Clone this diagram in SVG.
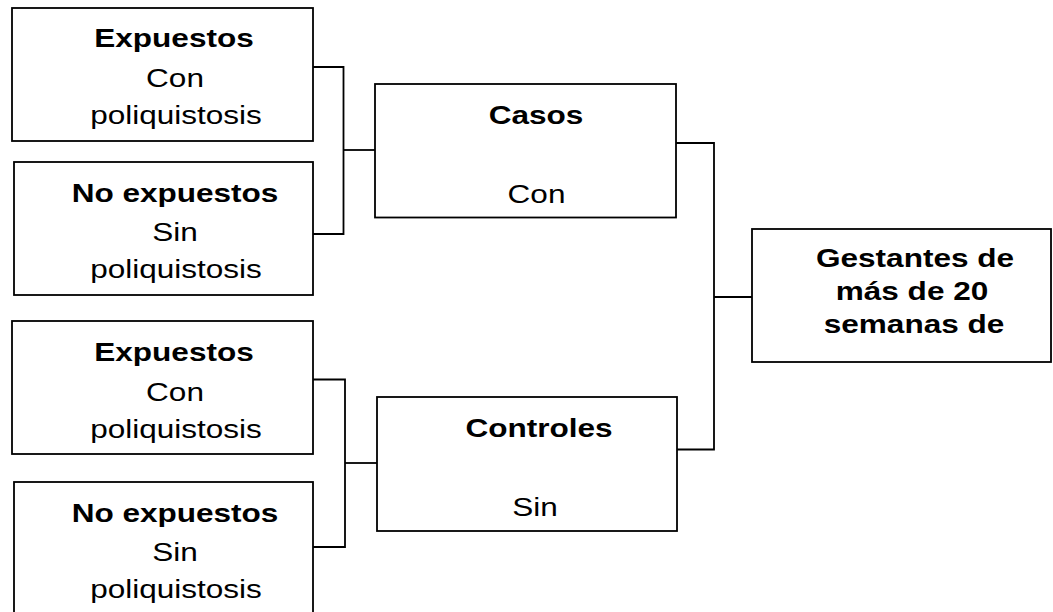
<svg xmlns="http://www.w3.org/2000/svg" width="1053" height="612" viewBox="0 0 1053 612">
<style>
  .box{fill:#fff;stroke:#000;stroke-width:1.8}
  .conn{fill:none;stroke:#000;stroke-width:1.8}
  text{font-family:"Liberation Sans",Arial,sans-serif;font-size:26.5px;fill:#000;text-anchor:middle}
  .b{font-weight:bold}
</style>
<rect width="1053" height="612" fill="#fff"/>
<g id="connectors">
  <polyline class="conn" points="313,67 343.5,67 343.5,234 313,234"/>
  <line class="conn" x1="343.5" y1="150" x2="375" y2="150"/>
  <polyline class="conn" points="313,379.5 345,379.5 345,547 313,547"/>
  <line class="conn" x1="345" y1="463" x2="377" y2="463"/>
  <polyline class="conn" points="676,143 714,143 714,449.5 677,449.5"/>
  <line class="conn" x1="714" y1="297" x2="752" y2="297"/>
</g>
<g id="expuestos1">
  <rect class="box" x="12" y="8" width="301" height="133"/>
  <text class="b" transform="translate(174,47) scale(1.19,1)">Expuestos</text>
  <text transform="translate(175,87) scale(1.19,1)">Con</text>
  <text transform="translate(176,123.5) scale(1.19,1)">poliquistosis</text>
</g>
<g id="noexpuestos1">
  <rect class="box" x="14" y="162" width="299" height="133"/>
  <text class="b" transform="translate(175,202) scale(1.19,1)">No expuestos</text>
  <text transform="translate(175,241) scale(1.19,1)">Sin</text>
  <text transform="translate(176,278) scale(1.19,1)">poliquistosis</text>
</g>
<g id="expuestos2">
  <rect class="box" x="12" y="321" width="301" height="133"/>
  <text class="b" transform="translate(174,361) scale(1.19,1)">Expuestos</text>
  <text transform="translate(175,400.5) scale(1.19,1)">Con</text>
  <text transform="translate(176,437.5) scale(1.19,1)">poliquistosis</text>
</g>
<g id="noexpuestos2">
  <rect class="box" x="14" y="482" width="299" height="136"/>
  <text class="b" transform="translate(175,522) scale(1.19,1)">No expuestos</text>
  <text transform="translate(175,561) scale(1.19,1)">Sin</text>
  <text transform="translate(176,598) scale(1.19,1)">poliquistosis</text>
</g>
<g id="casos">
  <rect class="box" x="375" y="84" width="301" height="133.5"/>
  <text class="b" transform="translate(536,124) scale(1.19,1)">Casos</text>
  <text transform="translate(536.5,202.5) scale(1.19,1)">Con</text>
</g>
<g id="controles">
  <rect class="box" x="377" y="397" width="300" height="134"/>
  <text class="b" transform="translate(539,436.5) scale(1.19,1)">Controles</text>
  <text transform="translate(535,515.5) scale(1.19,1)">Sin</text>
</g>
<g id="gestantes">
  <rect class="box" x="752" y="229" width="299" height="133"/>
  <text class="b" transform="translate(915,267) scale(1.19,1)">Gestantes de</text>
  <text class="b" transform="translate(912,300) scale(1.19,1)">más de 20</text>
  <text class="b" transform="translate(914,333) scale(1.19,1)">semanas de</text>
</g>
</svg>
